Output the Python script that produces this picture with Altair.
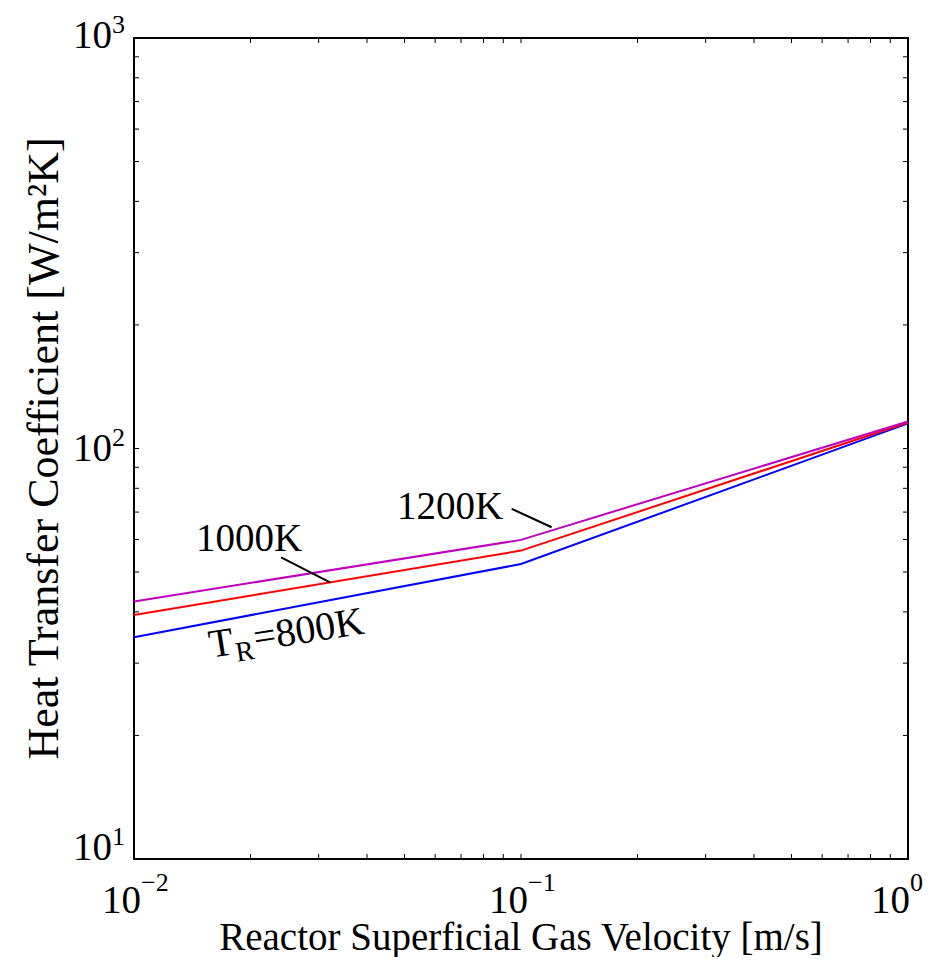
import altair as alt
import pandas as pd

# ---------------- data ----------------
velocity = [0.01, 0.1, 1.0]
h_800 = [34.7, 52.3, 115.1]
h_1000 = [39.3, 56.4, 115.7]
h_1200 = [42.4, 59.9, 116.4]
series_names = ["800K", "1000K", "1200K"]
series_colors = ["#0000FF", "#FF0000", "#BF00BF"]

x_major = [0.01, 0.1, 1.0]
x_exponents = ["\u22122", "\u22121", "0"]
y_major = [10, 100, 1000]
y_exponents = ["1", "2", "3"]

x_title = "Reactor Superficial Gas Velocity [m/s]"
y_title = "Heat Transfer Coefficient [W/m\u00b2K]"

# annotations (data coordinates)
label_text = ["1200K", "1000K"]
label_x = [0.0478, 0.01446]
label_y = [67.5, 56.4]
leader_x = [0.0946, 0.0240]
leader_y = [71.3, 54.3]
leader_x2 = [0.1200, 0.0321]
leader_y2 = [64.3, 47.2]
tr_x = [0.01582]
tr_y = [30.9]

# ---------------- layout / style ----------------
W, H = 774, 821
FONT = "Liberation Serif"
FS = 39
FS_SUP = 26
TICK = 5

xs = alt.Scale(type="log", domain=[0.01, 1], nice=False)
ys = alt.Scale(type="log", domain=[10, 1000], nice=False)

x_ticks = [m * d for d in [0.01, 0.1] for m in range(1, 10)] + [1.0]
y_ticks = [m * d for d in [10, 100] for m in range(1, 10)] + [1000]

rows = []
for name, vals in zip(series_names, [h_800, h_1000, h_1200]):
    for v, h in zip(velocity, vals):
        rows.append({"v": v, "h": h, "s": name})
lines_df = pd.DataFrame(rows)

lines = alt.Chart(lines_df).mark_line(strokeWidth=2).encode(
    x=alt.X("v:Q", scale=xs, axis=None),
    y=alt.Y("h:Q", scale=ys, axis=None),
    color=alt.Color("s:N", scale=alt.Scale(domain=series_names, range=series_colors), legend=None),
)

xt = pd.DataFrame({"t": x_ticks})
yt = pd.DataFrame({"t": y_ticks})
tick_style = dict(color="black", strokeWidth=1)
bottom_ticks = alt.Chart(xt).mark_rule(**tick_style).encode(
    x=alt.X("t:Q", scale=xs, axis=None), y=alt.value(H), y2=alt.value(H - TICK))
top_ticks = alt.Chart(xt).mark_rule(**tick_style).encode(
    x=alt.X("t:Q", scale=xs, axis=None), y=alt.value(0), y2=alt.value(TICK))
left_ticks = alt.Chart(yt).mark_rule(**tick_style).encode(
    y=alt.Y("t:Q", scale=ys, axis=None), x=alt.value(0), x2=alt.value(TICK))
right_ticks = alt.Chart(yt).mark_rule(**tick_style).encode(
    y=alt.Y("t:Q", scale=ys, axis=None), x=alt.value(W), x2=alt.value(W - TICK))

layers = [lines, bottom_ticks, top_ticks, left_ticks, right_ticks]

# bottom tick labels ("10" right edge / exponent left edge offset from tick, px)
x_label_dx = [7, 7, 2]
for val, ex, off in zip(x_major, x_exponents, x_label_dx):
    d = pd.DataFrame({"v": [val]})
    layers.append(alt.Chart(d).mark_text(text="10", font=FONT, fontSize=FS, align="right",
                                         baseline="alphabetic", dx=off, color="black").encode(
        x=alt.X("v:Q", scale=xs, axis=None), y=alt.value(H + 54)))
    layers.append(alt.Chart(d).mark_text(text=ex, font=FONT, fontSize=FS_SUP, align="left",
                                         baseline="alphabetic", dx=off, color="black").encode(
        x=alt.X("v:Q", scale=xs, axis=None), y=alt.value(H + 32)))

# left tick labels
y_label_dy = [1, 12, 10]
for val, ex, dy in zip(y_major, y_exponents, y_label_dy):
    d = pd.DataFrame({"v": [val]})
    layers.append(alt.Chart(d).mark_text(text="10", font=FONT, fontSize=FS, align="right",
                                         baseline="alphabetic", dy=dy, color="black").encode(
        y=alt.Y("v:Q", scale=ys, axis=None), x=alt.value(-22)))
    layers.append(alt.Chart(d).mark_text(text=ex, font=FONT, fontSize=FS_SUP, align="right",
                                         baseline="alphabetic", dy=dy - 15, color="black").encode(
        y=alt.Y("v:Q", scale=ys, axis=None), x=alt.value(-9)))

one = pd.DataFrame({"a": [0]})
layers.append(alt.Chart(one).mark_text(text=x_title, font=FONT, fontSize=FS, align="center",
                                       baseline="alphabetic", color="black").encode(
    x=alt.value(W / 2), y=alt.value(H + 91)))
layers.append(alt.Chart(one).mark_text(text=y_title, font=FONT, fontSize=44, align="center",
                                       baseline="alphabetic", angle=270, color="black").encode(
    x=alt.value(-76), y=alt.value(H / 2)))

# annotations
ann = pd.DataFrame({"x": label_x, "y": label_y, "t": label_text})
layers.append(alt.Chart(ann).mark_text(font=FONT, fontSize=FS, align="left",
                                       baseline="alphabetic", color="black").encode(
    x=alt.X("x:Q", scale=xs, axis=None), y=alt.Y("y:Q", scale=ys, axis=None), text="t:N"))
lead = pd.DataFrame({"x": leader_x, "y": leader_y, "x2": leader_x2, "y2": leader_y2})
layers.append(alt.Chart(lead).mark_rule(color="black", strokeWidth=2).encode(
    x=alt.X("x:Q", scale=xs, axis=None), y=alt.Y("y:Q", scale=ys, axis=None),
    x2="x2:Q", y2="y2:Q"))

tr = pd.DataFrame({"x": tr_x, "y": tr_y})
ANG = 351
for txt, fs, dx, dy in [("T", 40, 0, 0), ("R", 28, 25, 8), ("=800K", 40, 45, 0)]:
    layers.append(alt.Chart(tr).mark_text(text=txt, font=FONT, fontSize=fs, align="left",
                                          baseline="alphabetic", angle=ANG, dx=dx, dy=dy,
                                          color="black").encode(
        x=alt.X("x:Q", scale=xs, axis=None), y=alt.Y("y:Q", scale=ys, axis=None)))

chart = alt.layer(*layers).properties(
    width=W, height=H,
    autosize=alt.AutoSizeParams(type="none"),
    padding={"left": 126, "top": 30, "right": 22, "bottom": 98},
).configure_view(stroke="black", strokeWidth=2)

chart.save("out.html", embed_options={"renderer": "svg", "actions": False})
